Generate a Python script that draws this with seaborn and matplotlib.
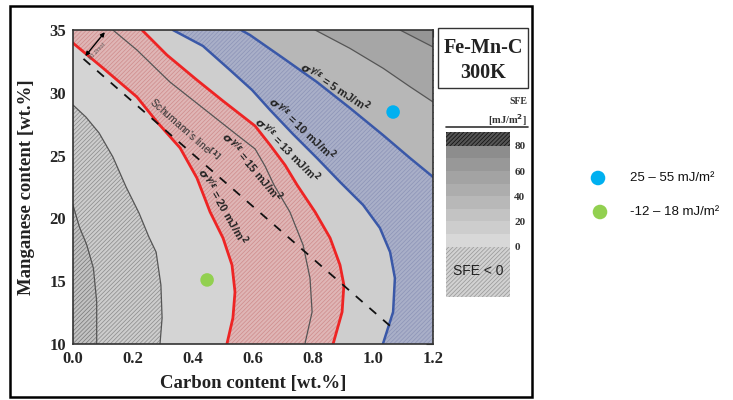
import matplotlib.pyplot as plt
import seaborn as sns
from matplotlib.patches import Polygon, Rectangle
from matplotlib.ticker import MultipleLocator

# curves, as (carbon wt.%, manganese wt.%)
# sigma^(gamma/eps) = 20 mJ/m2, red, lower
s20_c = [0.0, 0.100, 0.213, 0.280, 0.357, 0.413, 0.457, 0.500, 0.530, 0.540, 0.533, 0.513]
s20_mn = [33.96, 31.97, 29.67, 27.68, 25.61, 23.22, 20.51, 18.44, 16.29, 14.14, 12.07, 10.0]
# sigma = 15, thin line inside the red band
s15_c = [0.133, 0.213, 0.323, 0.433, 0.547, 0.607, 0.640, 0.670, 0.723, 0.767, 0.790, 0.797, 0.773]
s15_mn = [35.0, 33.41, 30.86, 28.79, 26.64, 25.53, 24.17, 22.66, 20.51, 17.88, 15.25, 12.55, 10.0]
# sigma = 13, red, upper
s13_c = [0.230, 0.313, 0.413, 0.500, 0.607, 0.657, 0.707, 0.747, 0.807, 0.857, 0.890, 0.903, 0.897, 0.867]
s13_mn = [35.0, 33.01, 31.02, 29.35, 27.36, 25.84, 24.24, 22.66, 20.51, 18.44, 16.29, 14.70, 12.55, 10.0]
# sigma = 10, blue
s10_c = [0.333, 0.433, 0.523, 0.597, 0.657, 0.733, 0.813, 0.890, 0.967, 1.023, 1.057, 1.073, 1.067, 1.033]
s10_mn = [35.0, 33.73, 31.82, 30.22, 28.63, 26.72, 24.81, 22.90, 21.07, 19.24, 17.32, 15.25, 12.55, 10.0]
# sigma = 5, blue
s5_c = [0.560, 0.590, 0.700, 0.813, 0.923, 1.033, 1.123, 1.200]
s5_mn = [35.0, 34.60, 32.77, 30.86, 28.79, 26.64, 24.81, 23.30]

# SFE iso-lines (thin grey)
sfe_neg_c = [0.0, 0.021, 0.046, 0.068, 0.079, 0.079]
sfe_neg_mn = [21.07, 19.34, 17.88, 16.03, 13.37, 10.0]
sfe0_c = [0.0, 0.043, 0.087, 0.133, 0.177, 0.220, 0.253, 0.277, 0.293, 0.297, 0.290]
sfe0_mn = [29.03, 28.07, 26.80, 24.89, 22.50, 20.43, 18.52, 17.32, 14.70, 12.07, 10.0]
sfe20_c = [0.807, 0.923, 1.034, 1.123, 1.200]
sfe20_mn = [35.0, 33.54, 31.95, 30.49, 29.27]
sfe30_c = [1.090, 1.200]
sfe30_mn = [35.0, 33.65]

schumann_c = [0.035, 1.079]
schumann_mn = [32.7, 10.98]

# measured alloys
alloy_c = [1.067, 0.447]
alloy_mn = [28.47, 15.1]
alloy_colors = ['#00b0f0', '#92d050']
alloy_labels = ['25 – 55 mJ/m²', '-12 – 18 mJ/m²']

# colour scale
sfe_levels = [0, 10, 20, 30, 40, 50, 60, 70, 80]
sfe_greys = ['#d8d8d8', '#cdcdcd', '#c3c3c3', '#b8b8b8', '#adadad', '#a3a3a3', '#989898', '#8d8d8d']
sfe_ticks = [0, 20, 40, 60, 80]

sns.set_theme(style="white")
plt.rcParams['font.family'] = ['Liberation Serif', 'DejaVu Serif']
plt.rcParams['font.weight'] = 'bold'
plt.rcParams['axes.labelweight'] = 'bold'
plt.rcParams['mathtext.fontset'] = 'dejavusans'
plt.rcParams['hatch.linewidth'] = 0.55
HATCH = '////////'
SANS = ['Liberation Sans', 'DejaVu Sans']

fig = plt.figure(figsize=(7.33, 4.0), dpi=100)

# pixel overlay for frame, title box and legend
ov = fig.add_axes([0, 0, 1, 1])
ov.set_xlim(0, 733)
ov.set_ylim(400, 0)
ov.axis('off')
ov.add_patch(Rectangle((10, 6), 522, 391, fill=False, lw=1.8, ec='black'))
ov.add_patch(Rectangle((438, 28), 90, 60, fill=False, lw=1.0, ec='#333333'))
ov.text(483, 48, 'Fe-Mn-C', ha='center', va='center', fontsize=14.5, color='#222222')
ov.text(483, 73, '300K', ha='center', va='center', fontsize=14.5, color='#222222')
ov.text(527, 101, 'SFE', ha='right', va='center', fontsize=7, color='#333333')
ov.text(527, 120, '[mJ/m$^2$]', ha='right', va='center', fontsize=7.5, color='#333333')
ov.plot([446, 528], [127, 127], color='#333333', lw=1.2)
sns.scatterplot(x=[598, 600], y=[178, 212], hue=alloy_labels, palette=alloy_colors,
                s=110, edgecolor='none', legend=False, ax=ov)
for yy, lab in zip([178, 212], alloy_labels):
    ov.text(630, yy, lab, ha='left', va='center', fontsize=9.5,
            family=SANS, fontweight='normal', color='#111111')

# main map
ax = fig.add_axes([73 / 733, 56 / 400, 360 / 733, 314 / 400])
ax.set_xlim(0, 1.2)
ax.set_ylim(10, 35)
ax.set_facecolor('#d4d4d4')


def region(c, mn, extra, face, hatch=None, hc='none'):
    pts = list(zip(c, mn)) + extra
    ax.add_patch(Polygon(pts, closed=True, facecolor=face, edgecolor=hc,
                         hatch=hatch, lw=0, zorder=1))


region(s15_c, s15_mn, [(1.2, 10), (1.2, 35)], '#cecece')
region(s5_c, s5_mn, [(1.2, 35)], '#b7b7b7')
region(sfe20_c, sfe20_mn, [(1.2, 35)], '#a6a6a6')
region(sfe30_c, sfe30_mn, [(1.2, 35)], '#959595')
region(sfe0_c, sfe0_mn, [(0, 10)], '#cdcdcd', HATCH, '#8e8e8e')
region(sfe_neg_c, sfe_neg_mn, [(0, 10)], '#c3c3c3', HATCH, '#7c7c7c')
# red band between sigma 20 and 13
red_pts = list(zip(s20_c, s20_mn)) + list(zip(s13_c, s13_mn))[::-1] + [(0, 35)]
ax.add_patch(Polygon(red_pts, closed=True, facecolor='#dfb6b6', edgecolor='#d08e8e',
                     hatch=HATCH, lw=0, zorder=1))
# blue band between sigma 10 and 5
blue_pts = list(zip(s10_c, s10_mn)) + [(1.2, 10)] + list(zip(s5_c, s5_mn))[::-1]
ax.add_patch(Polygon(blue_pts, closed=True, facecolor='#a9afc8', edgecolor='#8e95b8',
                     hatch=HATCH, lw=0, zorder=1))

line_kw = dict(sort=False, estimator=None, ax=ax, solid_joinstyle='round')
for cc, mm in [(sfe_neg_c, sfe_neg_mn), (sfe0_c, sfe0_mn), (s15_c, s15_mn),
               (sfe20_c, sfe20_mn), (sfe30_c, sfe30_mn)]:
    sns.lineplot(x=cc, y=mm, color='#555555', lw=0.9, **line_kw)
for cc, mm in [(s20_c, s20_mn), (s13_c, s13_mn)]:
    sns.lineplot(x=cc, y=mm, color='#ee2424', lw=2, **line_kw)
for cc, mm in [(s10_c, s10_mn), (s5_c, s5_mn)]:
    sns.lineplot(x=cc, y=mm, color='#3a58a8', lw=1.8, **line_kw)
ax.plot(schumann_c, schumann_mn, color='#111111', lw=1.3, dashes=(5, 5), zorder=3)

ax.annotate('', xy=(0.112, 35.0), xytext=(0.035, 32.75),
            arrowprops=dict(arrowstyle='<|-|>', color='black', lw=1, mutation_scale=6))
ax.text(0.082, 33.3, '80 J/mol', rotation=46, fontsize=4, color='#555555',
        ha='center', va='center', family=SANS, fontweight='normal')
ax.text(0.372, 27.1, "Schumann's line$^{[1]}$", rotation=-41.5, fontsize=7.5, color='#333333',
        ha='center', va='center', family=SANS, fontweight='normal', zorder=4)

sigma_vals = [20, 15, 13, 10, 5]
lab_pos = [(0.50, 21.0, -60), (0.595, 24.1, -50), (0.713, 25.45, -45),
           (0.765, 27.2, -43), (0.873, 30.46, -33)]
for val, (xx, yy, rot) in zip(sigma_vals, lab_pos):
    ax.text(xx, yy, r'$\sigma^{\gamma/\varepsilon}$ = %d mJ/m$^2$' % val, rotation=rot,
            fontsize=8, color='#222222', ha='center', va='center',
            family=SANS, fontweight='bold', zorder=4)

sns.scatterplot(x=alloy_c, y=alloy_mn, hue=alloy_labels, palette=alloy_colors,
                s=95, edgecolor='none', legend=False, ax=ax, zorder=5)

ax.xaxis.set_major_locator(MultipleLocator(0.2))
ax.xaxis.set_minor_locator(MultipleLocator(0.02))
ax.yaxis.set_major_locator(MultipleLocator(5))
ax.yaxis.set_minor_locator(MultipleLocator(0.5))
ax.tick_params(which='both', direction='in', top=True, right=True, color='#333333', width=0.8)
ax.tick_params(which='major', length=5, labelsize=12, pad=5)
ax.tick_params(which='minor', length=2.5)
ax.set_xticks(ax.get_xticks())
ax.set_xticklabels(['%.1f' % v for v in ax.get_xticks()])
for lab in ax.get_xticklabels() + ax.get_yticklabels():
    lab.set_fontweight('bold')
ax.set_xlim(0, 1.2)
for sp in ax.spines.values():
    sp.set_color('#333333')
    sp.set_linewidth(1.2)
ax.set_xlabel('Carbon content [wt.%]', fontsize=13.5, color='#222222')
ax.set_ylabel('Manganese content [wt.%]', fontsize=13.5, color='#222222')
ax.xaxis.set_label_coords(0.5, -0.10)
ax.yaxis.set_label_coords(-0.105, 0.5)

# colour scale
cax = fig.add_axes([446 / 733, 103 / 400, 64 / 733, 165 / 400])
cax.set_xlim(0, 1)
cax.set_ylim(-40, 91)
cax.bar(0.5, 40, bottom=-40, width=1, color='#d2d2d2', edgecolor='#9a9a9a', hatch=HATCH, lw=0)
for lo, grey in zip(sfe_levels[:-1], sfe_greys):
    cax.bar(0.5, 10, bottom=lo, width=1, color=grey, lw=0)
cax.bar(0.5, 11, bottom=80, width=1, color='#555555', edgecolor='#111111', hatch=HATCH, lw=0)
cax.set_xticks([])
cax.set_yticks(sfe_ticks)
cax.yaxis.tick_right()
cax.tick_params(axis='y', length=0, pad=3, labelsize=8)
for lab in cax.get_yticklabels():
    lab.set_fontweight('bold')
    lab.set_color('#333333')
for sp in cax.spines.values():
    sp.set_visible(False)
cax.text(0.5, -19, 'SFE < 0', ha='center', va='center', fontsize=10, color='#222222',
         family=SANS, fontweight='normal')

fig.savefig('out.png', dpi=100)
